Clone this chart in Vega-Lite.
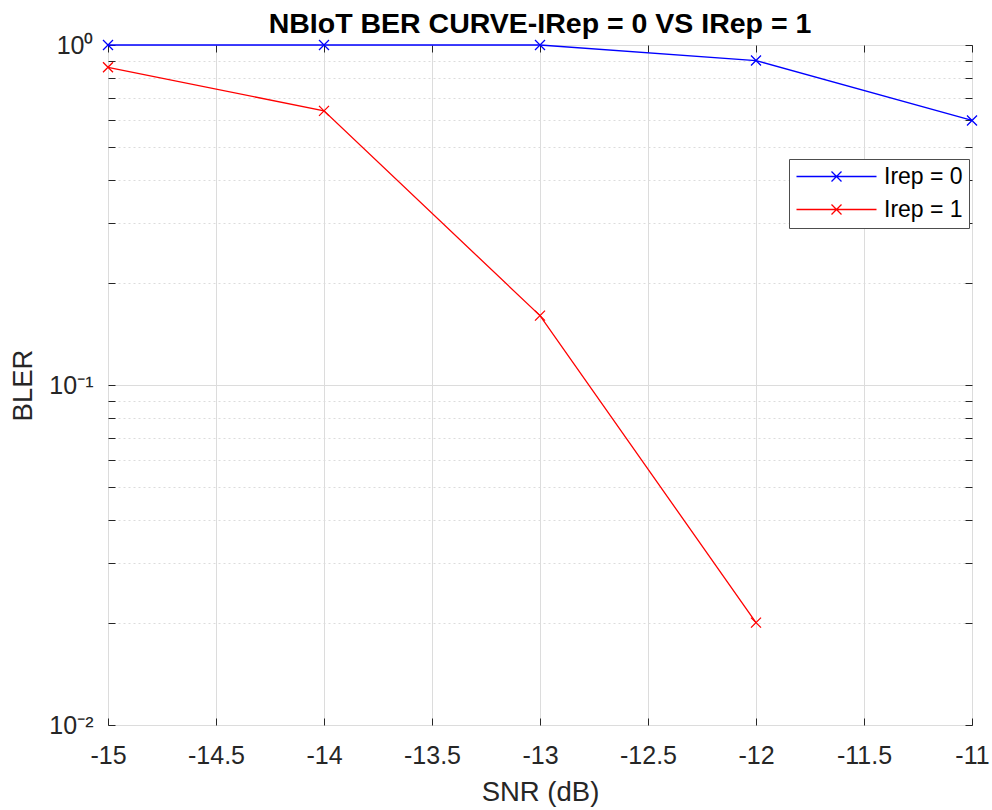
{
  "$schema": "https://vega.github.io/schema/vega-lite/v6.json",
  "width": 864,
  "height": 680,
  "autosize": {"type": "none"},
  "padding": {"left": 108, "top": 45, "right": 20, "bottom": 85},
  "background": "white",
  "title": {"text": "NBIoT BER CURVE-IRep = 0 VS IRep = 1", "font": "Liberation Sans", "fontSize": 28.5, "fontWeight": "bold", "color": "#000000", "anchor": "middle", "offset": -5},
  "config": {"view": {"stroke": "#262626", "strokeWidth": 1}, "font": "Liberation Sans"},
  "data": {"values": [
    {"snr": -15, "bler": 1.0, "series": "Irep = 0"},
    {"snr": -14, "bler": 1.0, "series": "Irep = 0"},
    {"snr": -13, "bler": 1.0, "series": "Irep = 0"},
    {"snr": -12, "bler": 0.9, "series": "Irep = 0"},
    {"snr": -11, "bler": 0.6, "series": "Irep = 0"},
    {"snr": -15, "bler": 0.86, "series": "Irep = 1"},
    {"snr": -14, "bler": 0.64, "series": "Irep = 1"},
    {"snr": -13, "bler": 0.16, "series": "Irep = 1"},
    {"snr": -12, "bler": 0.02, "series": "Irep = 1"}
  ]},
  "layer": [
    {
      "mark": {"type": "line", "strokeWidth": 1.3, "clip": false},
      "encoding": {
        "x": {"field": "snr", "type": "quantitative", "scale": {"domain": [-15, -11], "nice": false, "zero": false},
          "axis": {"orient": "bottom", "values": [-15, -14.5, -14, -13.5, -13, -12.5, -12, -11.5, -11], "labelExpr": "toString(datum.value)",
            "grid": true, "gridColor": "#dcdcdc", "gridWidth": 1, "domain": false, "tickSize": -7, "tickColor": "#262626",
            "labelPadding": 25, "labelFontSize": 25, "labelColor": "#262626", "labelFont": "Liberation Sans", "labelFlush": false, "labelOverlap": false,
            "title": "SNR (dB)", "titleFontSize": 27.5, "titleFontWeight": "normal", "titleColor": "#262626", "titleFont": "Liberation Sans",
            "titleX": 432, "titleY": 67, "titleBaseline": "middle", "titleAlign": "center"}},
        "y": {"field": "bler", "type": "quantitative", "scale": {"type": "log", "domain": [0.01, 1], "nice": false},
          "axis": {"orient": "left", "values": [0.01, 0.02, 0.03, 0.04, 0.05, 0.06, 0.07, 0.08, 0.09, 0.1, 0.2, 0.3, 0.4, 0.5, 0.6, 0.7, 0.8, 0.9, 1],
            "labelExpr": "abs(datum.value-1)<1e-9 ? '10⁰' : (abs(datum.value-0.1)<1e-9 ? '10⁻¹' : (abs(datum.value-0.01)<1e-9 ? '10⁻²' : ''))",
            "grid": true, "gridColor": "#dcdcdc",
            "gridDash": {"condition": {"test": "abs(log(datum.value)/LN10 - round(log(datum.value)/LN10)) > 0.001", "value": [2, 3]}, "value": []},
            "domain": false, "tickSize": -7, "tickColor": "#262626",
            "labelPadding": 22, "labelFontSize": 25, "labelColor": "#262626", "labelFont": "Liberation Sans", "labelOverlap": false,
            "title": "BLER", "titleFontSize": 27.5, "titleFontWeight": "normal", "titleColor": "#262626", "titleFont": "Liberation Sans",
            "titleX": -85, "titleY": 340, "titleBaseline": "middle", "titleAlign": "center", "titleAngle": -90}},
        "color": {"field": "series", "type": "nominal", "scale": {"domain": ["Irep = 0", "Irep = 1"], "range": ["#0000ff", "#ff0000"]},
          "legend": {"orient": "none", "legendX": 681, "legendY": 114, "title": null,
            "symbolType": "M-1,0H7M2.5,-0.5L3.5,0.5M2.5,0.5L3.5,-0.5", "symbolSize": 400, "symbolStrokeWidth": 1.3,
            "labelFontSize": 23, "labelColor": "#000000", "labelFont": "Liberation Sans", "labelOffset": 66,
            "rowPadding": 9, "padding": 6, "fillColor": "white", "strokeColor": "#4d4d4d"}}
      }
    },
    {
      "mark": {"type": "point", "shape": "M-1,-1L1,1M-1,1L1,-1", "size": 100, "strokeWidth": 1.3, "filled": false, "opacity": 1, "clip": false},
      "encoding": {
        "x": {"field": "snr", "type": "quantitative",
          "axis": {"orient": "top", "values": [-15, -14.5, -14, -13.5, -13, -12.5, -12, -11.5, -11], "labels": false, "grid": false, "domain": false, "tickSize": -7, "tickColor": "#262626", "title": null}},
        "y": {"field": "bler", "type": "quantitative",
          "axis": {"orient": "right", "values": [0.01, 0.02, 0.03, 0.04, 0.05, 0.06, 0.07, 0.08, 0.09, 0.1, 0.2, 0.3, 0.4, 0.5, 0.6, 0.7, 0.8, 0.9, 1], "labels": false, "grid": false, "domain": false, "tickSize": -7, "tickColor": "#262626", "title": null}},
        "color": {"field": "series", "type": "nominal"}
      }
    }
  ],
  "resolve": {"axis": {"x": "independent", "y": "independent"}}
}
